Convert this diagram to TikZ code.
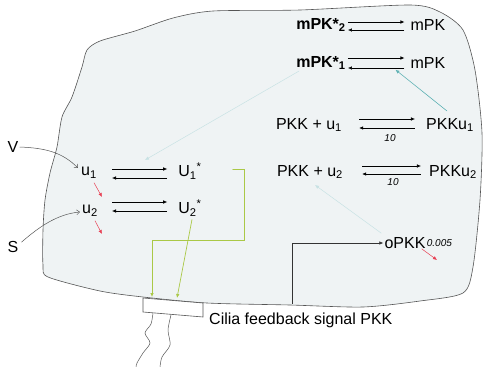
\documentclass[tikz,border=0pt]{standalone}
\usepackage{fontspec}
\setmainfont{Liberation Sans}
\usetikzlibrary{arrows.meta,positioning,calc}
\definecolor{cellfill}{RGB}{239,243,244}
\definecolor{celledge}{RGB}{85,85,85}
\definecolor{paleflow}{RGB}{200,226,228}
\definecolor{tealflow}{RGB}{95,178,180}
\definecolor{ciliagreen}{RGB}{170,200,70}
\definecolor{decayred}{RGB}{232,64,84}

\begin{document}
\begin{tikzpicture}[x=1pt,y=-1pt,>=Latex,
 sp/.style={inner sep=1pt,font=\fontsize{16}{18}\selectfont},
 bsp/.style={sp,font=\fontsize{16}{18}\selectfont\bfseries},
 rate/.style={inner sep=0pt,font=\fontsize{10}{12}\selectfont\itshape},
 rxn/.style={line width=0.6pt,-{Latex[length=4pt,width=3.5pt]}},
 input/.style={line width=0.5pt,celledge,-{Straight Barb[length=3pt,width=5pt]}},
 decay/.style={line width=0.5pt,decayred,-{Latex[length=4pt,width=3.5pt]}},
 pale/.style={line width=0.5pt,paleflow,-{Latex[length=4pt,width=3.5pt]}},
 teal/.style={line width=0.6pt,tealflow,-{Latex[length=4pt,width=3.5pt]}},
 green/.style={line width=0.7pt,ciliagreen,-{Latex[length=4pt,width=3.5pt]}},
 signal/.style={line width=0.6pt,black!80,-{Latex[length=4pt,width=3.5pt]}}]
\useasboundingbox (0,0) rectangle (485,367);
% cell outline
\draw[celledge,fill=cellfill,line width=0.6pt] plot[smooth cycle,tension=0.45] coordinates {
 (87,50) (100,41) (135,31) (173,18) (213,11) (300,10) (410,5) (440,12) (463,30)
 (475,70) (482,133) (480,200) (473,267) (463,293) (420,301) (363,307) (290,305)
 (207,303) (143,297) (100,291) (48,277) (43,265) (43,230) (45,200) (50,173)
 (57,147) (62,117) (72,97) (82,67)};
% cilia
\draw[celledge,fill=white,line width=0.6pt] (143,298) -- (143,312) -- (203,317) -- (203,303) -- cycle;
\draw[celledge,line width=0.5pt] plot[smooth] coordinates {(153,313) (151,324) (145,333) (150,343) (143,353) (137,363) (136,367)};
\draw[celledge,line width=0.5pt] plot[smooth] coordinates {(171,315) (168,330) (170,345) (162,357) (160,367)};
\coordinate (cil1) at (152,297);
\coordinate (cil2) at (177,298);
\node[sp,anchor=west] (cilia) at (208,320) {Cilia feedback signal PKK};

% species
\node[bsp] (mPKs2) at (321,25) {mPK*\textsubscript{2}};
\node[sp] (mPK2) at (428,25) {mPK};
\node[bsp] (mPKs1) at (321,63) {mPK*\textsubscript{1}};
\node[sp] (mPK1) at (428,63) {mPK};
\node[sp] (PKKu1l) at (309,125) {PKK + u\textsubscript{1}};
\node[sp] (PKKu1r) at (450,125) {PKKu\textsubscript{1}};
\node[rate] (k1) at (390,138) {10};
\node[sp] (PKKu2l) at (310,172) {PKK + u\textsubscript{2}};
\node[sp] (PKKu2r) at (453,172) {PKKu\textsubscript{2}};
\node[rate] (k2) at (393,182) {10};
\node[sp] (oPKK) at (405,243) {oPKK};
\node[rate,anchor=west] (k3) at (oPKK.east) {0.005};
\node[sp] (u1) at (89,173) {u\textsubscript{1}};
\node[sp] (u2) at (90,211) {u\textsubscript{2}};
\node[sp] (U1s) at (190,171) {U\textsubscript{1}\textsuperscript{*}};
\node[sp] (U2s) at (190,208) {U\textsubscript{2}\textsuperscript{*}};
\node[sp] (V) at (13,147) {V};
\node[sp] (S) at (13,247) {S};

% reactions
\draw[rxn] ($(mPKs2.east)+(1,-3)$) -- ($(mPK2.west)+(-5,-3)$);
\draw[rxn] ($(mPK2.west)+(-5,5)$) -- ($(mPKs2.east)+(1,5)$);
\draw[rxn] ($(mPKs1.east)+(1,-5)$) -- ($(mPK1.west)+(-5,-5)$);
\draw[rxn] ($(mPK1.west)+(-5,5)$) -- ($(mPKs1.east)+(1,5)$);
\draw[rxn] ($(PKKu1l.east)+(16,-6)$) -- ($(PKKu1r.west)+(-10,-6)$);
\draw[rxn] ($(PKKu1r.west)+(-10,3)$) -- ($(PKKu1l.east)+(16,3)$);
\draw[rxn] ($(PKKu2l.east)+(18,-6)$) -- ($(PKKu2r.west)+(-7,-6)$);
\draw[rxn] ($(PKKu2r.west)+(-7,2)$) -- ($(PKKu2l.east)+(18,2)$);
\draw[rxn] ($(u1.east)+(14,-4)$) -- ($(U1s.west)+(-10,-2)$);
\draw[rxn] ($(U1s.west)+(-10,7)$) -- ($(u1.east)+(14,5)$);
\draw[rxn] ($(u2.east)+(13,-9)$) -- ($(U2s.west)+(-10,-6)$);
\draw[rxn] ($(U2s.west)+(-10,3)$) -- ($(u2.east)+(13,0)$);

% inputs
\draw[input] (V.east) .. controls (45,148) and (62,152) .. ($(u1.west)+(-2,-5)$);
\draw[input] ($(S.north east)+(2,2)$) .. controls (40,226) and (58,214) .. ($(u2.west)+(-1,1)$);

% degradation
\coordinate (u1out) at (102,197);
\coordinate (u2out) at (102,234);
\coordinate (oPKKout) at (437,260);
\draw[decay] ($(u1.south)+(5,3)$) -- (u1out);
\draw[decay] ($(u2.south)+(5,3)$) -- (u2out);
\draw[decay] ($(oPKK.south east)+(-5,-1)$) -- (oPKKout);

% feedback
\coordinate (rxnU1) at (145,160);
\draw[pale] ($(mPKs1.south west)+(4,0)$) -- (rxnU1);
\draw[pale] ($(oPKK.north west)+(-2,-3)$) -- ($(PKKu2l.south)+(5,5)$);
\draw[teal] ($(PKKu1r.north)+(-3,-6)$) -- ($(mPK1.south west)+(-14,0)$);
\draw[green,line cap=round] ($(U1s.east)+(30,-2)$) -| (244,240) -| (cil1);
\draw[green] ($(U2s.south)+(2,2)$) -- (cil2);
\coordinate (base) at (292,304);
\draw[signal] (base) |- (oPKK.west);
\end{tikzpicture}
\end{document}
